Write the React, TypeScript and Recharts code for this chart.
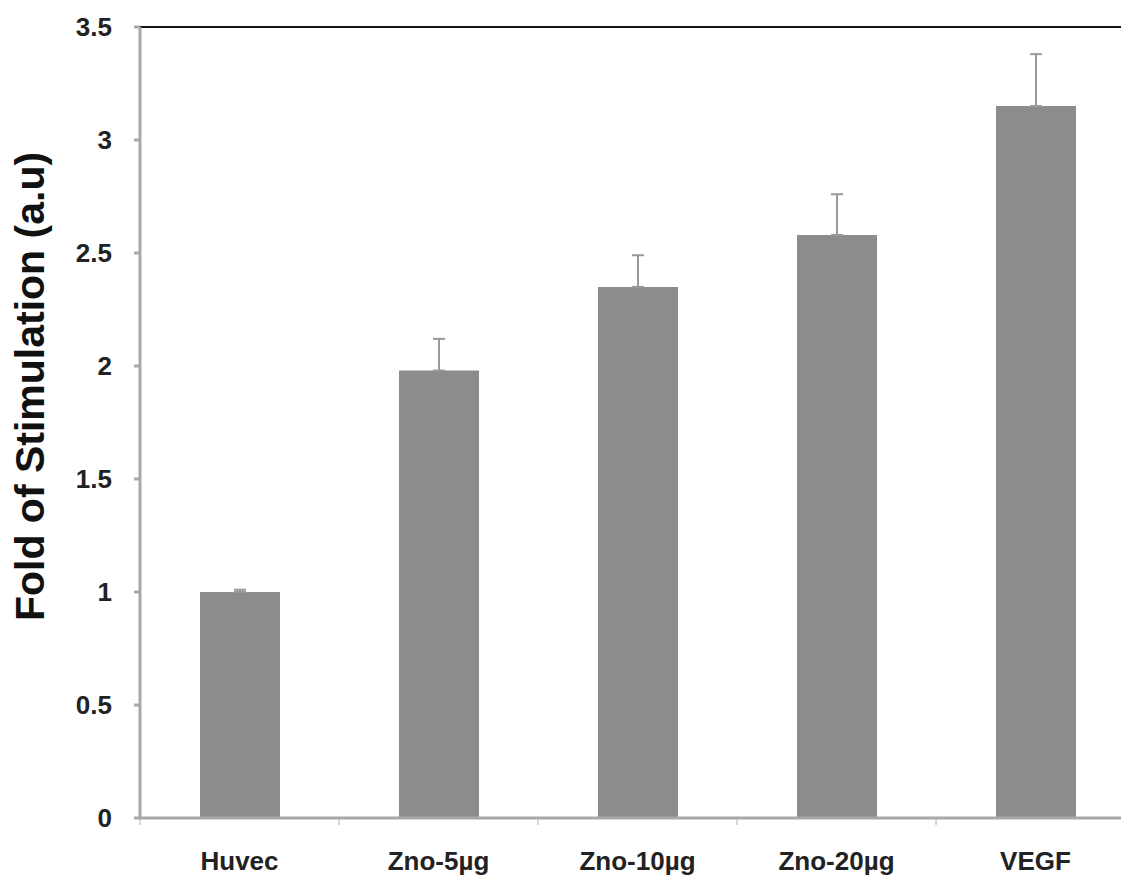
import { Bar, BarChart, ErrorBar, ReferenceLine, XAxis, YAxis } from "recharts"

const groups = ["Huvec", "Zno-5µg", "Zno-10µg", "Zno-20µg", "VEGF"]
const fold = [1.0, 1.98, 2.35, 2.58, 3.15]
const sd = [0.01, 0.14, 0.14, 0.18, 0.23]
const yTicks = [0, 0.5, 1, 1.5, 2, 2.5, 3, 3.5]

const data = groups.map((name, i) => ({
  name,
  value: fold[i],
  err: [0, sd[i]],
}))

const FONT = "'Liberation Sans', Arial, sans-serif"
const PLOT_LEFT = 140
const PLOT_RIGHT = 1135
const BAND = (PLOT_RIGHT - PLOT_LEFT) / groups.length

function CategoryTick(props: any) {
  const { x, y, payload, index } = props
  const left = x - BAND / 2
  return (
    <g>
      <line x1={left} y1={y - 8} x2={left} y2={y - 1} stroke="#b0b0b0" strokeWidth={1} />
      {index === groups.length - 1 && (
        <line x1={x + BAND / 2} y1={y - 8} x2={x + BAND / 2} y2={y - 1} stroke="#b0b0b0" strokeWidth={1} />
      )}
      <text x={x} y={y + 44} textAnchor="middle" fontFamily={FONT} fontWeight="bold" fontSize={26} fill="#222">
        {payload.value}
      </text>
    </g>
  )
}

export default function App() {
  return (
    <div style={{ position: "absolute", left: 0, top: 0, width: 1121, height: 880, overflow: "hidden", background: "#fff" }}>
      <BarChart
        width={1160}
        height={880}
        data={data}
        margin={{ top: 27, right: 1160 - PLOT_RIGHT, bottom: 0, left: 0 }}
        barSize={80}
      >
        <XAxis
          dataKey="name"
          height={62}
          stroke="#a8a8a8"
          strokeWidth={3}
          tickLine={false}
          tick={<CategoryTick />}
          interval={0}
        />
        <YAxis
          width={PLOT_LEFT}
          domain={[0, 3.5]}
          ticks={yTicks}
          stroke="#a8a8a8"
          strokeWidth={3}
          tickSize={6}
          tickMargin={22}
          tick={{ fontFamily: FONT, fontWeight: "bold", fontSize: 26, fill: "#222" }}
          label={{
            value: "Fold of Stimulation (a.u)",
            angle: -90,
            position: "insideLeft",
            dx: 24,
            dy: -36,
            style: { fontFamily: FONT, fontWeight: "bold", fontSize: 41, fill: "#111", textAnchor: "middle" },
          }}
        />
        <ReferenceLine y={3.5} stroke="#111" strokeWidth={2} />
        <Bar dataKey="value" fill="#8c8c8c" isAnimationActive={false}>
          <ErrorBar dataKey="err" width={6} stroke="#999" strokeWidth={2} direction="y" />
        </Bar>
      </BarChart>
    </div>
  )
}
